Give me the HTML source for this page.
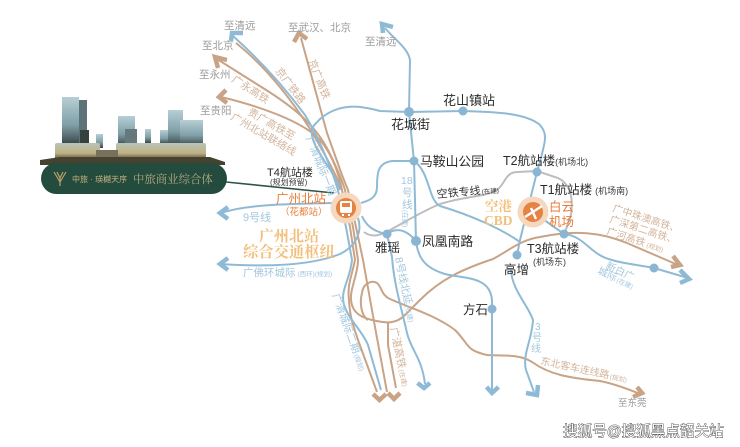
<!DOCTYPE html>
<html><head><meta charset="utf-8">
<style>
html,body{margin:0;padding:0;background:#fff;width:740px;height:447px;overflow:hidden}
svg{display:block;filter:blur(.35px)}
text{font-family:"Liberation Sans","Noto Sans CJK SC",sans-serif}
.b{fill:none;stroke:#8fbad6;stroke-width:2}
.t{fill:none;stroke:#c9a385;stroke-width:2}
.g{fill:none;stroke:#bdbdbd;stroke-width:2}
.ab{fill:none;stroke:#8fbad6;stroke-width:4.5}
.at{fill:none;stroke:#c9a385;stroke-width:4.5}
.st{fill:#8ab6d3}
.k{fill:#2a2a2a;font-size:13px}
.s{fill:#3a3a3a;font-size:9px}
.gy{fill:#9a9a9a;font-size:10.5px}
.tl{fill:#d3b49b;font-size:10.5px}
.bl{fill:#a3c7de;font-size:10.5px}
.sm{font-size:6.5px}
.serif{font-family:"Liberation Serif","Noto Serif CJK SC",serif}
</style></head><body>
<svg width="740" height="447" viewBox="0 0 740 447" xmlns="http://www.w3.org/2000/svg">
<defs>
<linearGradient id="gl" x1="0" y1="0" x2="0" y2="1"><stop offset="0" stop-color="#b7cfd6"/><stop offset=".6" stop-color="#7f9ea6"/><stop offset="1" stop-color="#39474a"/></linearGradient>
<linearGradient id="pod" x1="0" y1="0" x2="0" y2="1"><stop offset="0" stop-color="#b9c4b6"/><stop offset=".6" stop-color="#bfb184"/><stop offset="1" stop-color="#4a4535"/></linearGradient>
</defs>

<!-- tan lines -->
<path class="t" d="M236 43C270 70 295 105 312 132C325 155 335 172 342 190L350 227L355 260C352 275 347 285 349 300C350 320 355 330 358 340L377 392"/>
<path class="t" d="M301 38L327 133L342 175L348 190L356 227L363 260L375 327L387 392"/>
<path class="t" d="M217 59L263 88C295 108 315 125 328 150C338 170 342 180 345 190L353 227L358 260C358 272 352 285 351 295C350 310 358 317 372 320C385 323 395 325 405 315L420 300C440 280 460 270 493 259C510 250 520 240 540 237C575 230 600 232 627 243L678 265"/>
<path class="t" d="M221 97C255 105 300 120 318 138C330 150 338 170 342 190"/>
<path class="t" d="M368 320C360 315 360 300 362 293C363 283 372 280 377 283C382 287 381 295 390 299C410 308 435 315 455 330C470 345 465 350 487 355C505 356 520 354 532 362C550 375 570 378 600 381C615 384 628 389 640 394"/>
<path class="t" d="M388 323L388 345L396 388"/>

<!-- gray -->
<path class="g" d="M364 232C372 238 380 236 392 229C410 219 425 210 440 204C465 196 485 197 497 190C506 183 505 172 518 172L537 171L558 178C572 185 573 200 571 215L565 232"/>

<!-- blue lines -->
<path class="b" d="M233 36C262 62 285 88 305 115C320 140 332 170 338 190L346 227L352 260C350 280 340 290 344 305C350 322 362 330 368 345L381 390"/>
<path class="b" d="M312 128C316 123 322 115 335 110C350 104 365 107 380 111L409 112L463 111C490 112 525 112 540 125C548 135 546 140 537 172L520 240L517 255"/>
<path class="b" d="M312 128C310 140 318 150 325 162C332 172 337 180 340 190"/>
<path class="b" d="M385 28C395 40 408 48 410 60L409 112L414 161L416 241C418 258 425 268 445 274C465 279 490 276 492 300L492 392"/>
<path class="b" d="M221 213C245 205 280 204 333 203M361 203C367 201 377 199 377 187C377 172 378 163 392 161L414 161"/>
<path class="b" d="M414 161C430 172 428 200 440 206C470 215 500 228 520 242"/>
<path class="b" d="M221 264C265 267 310 266 340 254C358 245 362 230 358 218"/>
<path class="b" d="M362 216C366 226 375 232 387 234C395 228 405 228 416 241"/>
<path class="b" d="M387 234L392 257C394 285 402 310 407 333C411 350 422 358 425 384"/>
<path class="b" d="M511 270C512 290 528 305 533 320C532 340 522 355 526 370L534 392"/>
<path class="b" d="M533 212L564 234C585 236 590 255 612 260C625 264 640 265 654 268L688 278"/>

<!-- arrows -->
<path class="ab" d="M231 41L232 33L243 33"/>
<path class="at" d="M294 42L299 33L307 39"/>
<path class="at" d="M218 68L215 57L227 60"/>
<path class="at" d="M226 90L219 97L227 103"/>
<path class="at" d="M373 394L379.5 400L386 394"/>
<path class="at" d="M388 393L394 399L400 393"/>
<path class="ab" d="M417.5 383L424 388L430 383"/>
<path class="ab" d="M486.5 387L492 393L498.5 387"/>
<path class="ab" d="M526 393L537 395L538 385"/>
<path class="ab" d="M383 33L382 24L393 27"/>
<path class="ab" d="M228 207L220 213L228 219"/>
<path class="ab" d="M228 258L220 264L228 270"/>
<path class="ab" d="M680 270L689 279L680 283"/>
<path class="at" d="M673 256L680 265L671 267"/>
<path class="at" d="M637 387L642 393L633 397"/>

<!-- building -->
<rect x="62" y="97" width="17" height="47" fill="url(#gl)"/><rect x="79" y="100" width="8" height="44" fill="#5d7378"/>
<rect x="80" y="130" width="9" height="14" fill="#34413f"/>
<rect x="96" y="134" width="7" height="14" fill="url(#gl)"/>
<rect x="118" y="116" width="17" height="30" fill="url(#gl)"/><rect x="125" y="129" width="12" height="17" fill="#65797c"/>
<rect x="145" y="129" width="6" height="14" fill="url(#gl)"/>
<rect x="160" y="130" width="9" height="14" fill="url(#gl)"/><rect x="168" y="110" width="15" height="36" fill="url(#gl)"/><rect x="180" y="120" width="23" height="26" fill="url(#gl)"/>
<rect x="55" y="143" width="45" height="17" rx="2" fill="url(#pod)"/>
<rect x="116" y="143" width="90" height="17" rx="2" fill="url(#pod)"/>
<rect x="96" y="150" width="22" height="10" fill="#77705a"/>
<path d="M40 160L60 157L210 157L225 162L225 165L40 165Z" fill="#45422f"/>
<rect x="41" y="163" width="186" height="31" rx="15.5" fill="#234c3e"/>
<path d="M54 172L60 182L66 172M57 172L60 178L63 172M60 178L60 186" fill="none" stroke="#b99f6d" stroke-width="1.2"/>
<text x="72" y="182" style="font-size:8px" fill="#c9b183">中旅 · 瑛樾天序</text>
<text x="133" y="183" class="serif" style="font-size:11.4px" fill="#b7a77e">中旅商业综合体</text>
<path d="M226 182L334 193" stroke="#2f5446" stroke-width="1.6" fill="none"/>

<!-- north station icon -->
<circle cx="346" cy="208" r="15.5" fill="#f6d8bf"/><circle cx="346" cy="208" r="10" fill="#e58344"/>
<rect x="340" y="201" width="12" height="12" rx="2" fill="#fff"/><rect x="342" y="203" width="8" height="4" fill="#e58344"/><rect x="342" y="214" width="2" height="2" fill="#fff"/><rect x="348" y="214" width="2" height="2" fill="#fff"/>

<!-- airport icon -->
<circle cx="533" cy="212" r="15.5" fill="#f6d8bf"/><circle cx="533" cy="212" r="10" fill="#e58344"/>
<path d="M525 217L542 206M531 208L536 219" stroke="#fff" stroke-width="2.4" fill="none"/>

<!-- stations -->
<g class="st">
<circle cx="409" cy="112" r="5"/><circle cx="463" cy="111" r="4.5"/><circle cx="414" cy="161" r="4.5"/>
<circle cx="537" cy="172" r="4.5"/><circle cx="387" cy="234" r="4.5"/><circle cx="416" cy="241" r="5"/>
<circle cx="564" cy="234" r="4.5"/><circle cx="517" cy="255" r="4.5"/><circle cx="492" cy="309" r="4.5"/><circle cx="654" cy="268" r="4.5"/>
</g>

<!-- dark labels -->
<text class="k" x="391" y="129">花城街</text>
<text class="k" x="443" y="105">花山镇站</text>
<text class="k" x="420" y="166" style="font-size:12.8px">马鞍山公园</text>
<text class="k" x="503" y="165" style="font-size:12.5px">T2航站楼<tspan class="s" dx="0">(机场北)</tspan></text>
<text class="k" x="540" y="194" style="font-size:12.5px">T1航站楼<tspan class="s" dx="3">(机场南)</tspan></text>
<text class="k" x="527" y="253" style="font-size:12.5px">T3航站楼</text>
<text class="s" x="533" y="265">(机场东)</text>
<text class="k" x="504" y="274" style="font-size:12.5px">高增</text>
<text class="k" x="463" y="314" style="font-size:12.5px">方石</text>
<text class="k" x="375" y="252" style="font-size:12.5px">雅瑶</text>
<text class="k" x="422" y="246" style="font-size:12.8px">凤凰南路</text>
<text class="k" x="267" y="176" style="font-size:11px">T4航站楼</text>
<text class="s" x="270" y="185" style="font-size:8px">(规划预留)</text>

<!-- gray destinations -->
<text class="gy" x="224" y="29">至清远</text>
<text class="gy" x="288" y="31">至武汉、北京</text>
<text class="gy" x="365" y="45">至清远</text>
<text class="gy" x="202" y="49">至北京</text>
<text class="gy" x="199" y="78">至永州</text>
<text class="gy" x="200" y="114">至贵阳</text>
<text class="gy" x="618" y="406" style="font-size:9.5px">至东莞</text>

<!-- orange -->
<text x="276" y="203" style="font-size:12.5px" fill="#ea7d38">广州北站</text>
<text x="280" y="215" style="font-size:9.5px" fill="#ea7d38">（花都站）</text>
<text x="549" y="211" style="font-size:12.5px" fill="#ea7d38">白云</text>
<text x="549" y="226" style="font-size:12.5px" fill="#ea7d38">机场</text>
<g fill="#f3c07c" font-weight="bold">
<text x="259" y="241" class="serif" style="font-size:15px">广州北站</text>
<text x="243" y="257" class="serif" style="font-size:15.3px">综合交通枢纽</text>
<text x="485" y="211" class="serif" style="font-size:13.5px">空港</text>
<text x="484" y="225" class="serif" style="font-size:13.5px">CBD</text>
</g>

<!-- blue labels -->
<text class="bl" x="243" y="221" style="font-size:11px">9号线</text>
<text class="bl" x="243" y="276">广佛环城际<tspan class="sm" dx="2">(西环)(规划)</tspan></text>
<text class="bl" x="401" y="184" style="font-size:10.5px">18</text>
<text class="bl" x="402" y="196">号</text>
<text class="bl" x="402" y="208">线</text>
<text class="bl sm" transform="translate(403,210) rotate(90)">(在建)</text>
<text class="bl" transform="translate(395,258) rotate(78)">8号线北延<tspan class="sm" dx="1">(在建)</tspan></text>
<text class="bl" transform="translate(306,138) rotate(68)">广清城际一期</text>
<text class="bl" transform="translate(332,295) rotate(70)">广清城际二期<tspan class="sm" dx="1">(规划)</tspan></text>
<text class="bl" x="535" y="330" style="font-size:10px">3</text>
<text class="bl" x="532" y="341" style="font-size:10px">号</text>
<text class="bl" x="531" y="352" style="font-size:10px">线</text>
<text class="bl" transform="translate(605,268) rotate(25)" style="font-size:10px">新白广</text>
<text class="bl" transform="translate(597,273) rotate(25)" style="font-size:10px">城际<tspan class="sm" dx="1">(在建)</tspan></text>

<!-- tan labels -->
<text class="tl" transform="translate(275,71) rotate(53)">京广铁路</text>
<text class="tl" transform="translate(308,61) rotate(68)">京广高铁</text>
<text class="tl" transform="translate(231,81) rotate(33)">广永高铁</text>
<text class="tl" transform="translate(247,114) rotate(30)">贵广高铁至</text>
<text class="tl" transform="translate(230,119) rotate(30)">广州北站联络线</text>
<text class="tl" transform="translate(390,328) rotate(78)">广湛高铁<tspan class="sm" dx="1">(在建)</tspan></text>
<text class="tl" transform="translate(540,364) rotate(12)" style="font-size:10px">东北客车连线路<tspan class="sm" dx="1">(规划)</tspan></text>
<text class="tl" transform="translate(612,211) rotate(18)" style="font-size:10px">广中珠澳高铁、</text>
<text class="tl" transform="translate(609,222) rotate(18)" style="font-size:10px">广深第二高铁、</text>
<text class="tl" transform="translate(606,234) rotate(18)" style="font-size:10px">广河高铁<tspan class="sm" dx="2">(规划)</tspan></text>

<!-- air-rail label -->
<text transform="translate(437,198) rotate(-5)" style="font-size:11px" fill="#333">空铁专线<tspan style="font-size:6.5px" dx="1">(在建)</tspan></text>

<!-- watermark -->
<text x="563" y="436" style="font-size:14.6px" fill="#fff" stroke="#333" stroke-width=".8" paint-order="stroke">搜狐号@搜狐黑点韶关站</text>
</svg>
</body></html>
